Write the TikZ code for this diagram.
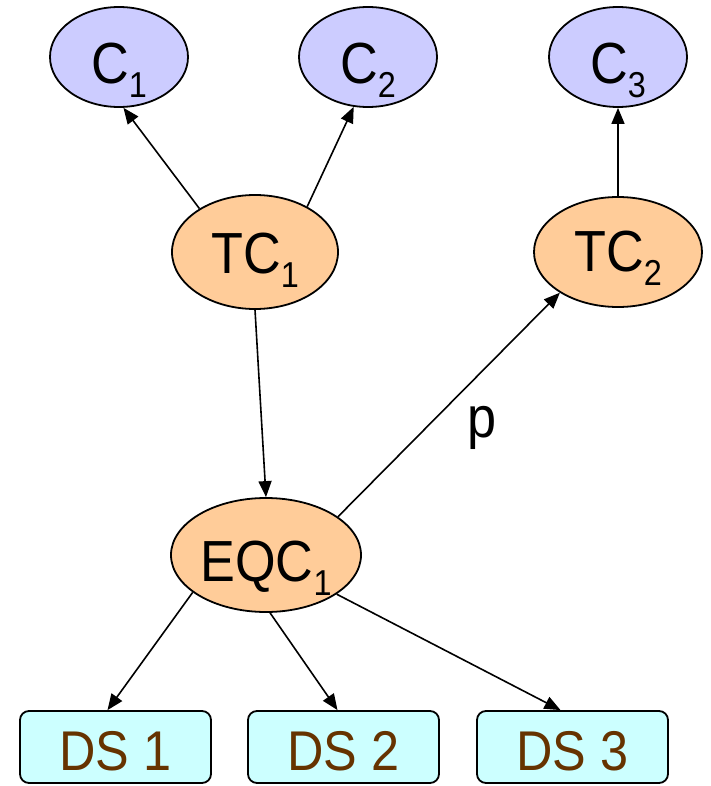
\documentclass[tikz,border=0pt]{standalone}
\usepackage{fontspec}
\setmainfont{Liberation Sans}[FakeStretch=0.9]
\usetikzlibrary{shapes.geometric,arrows.meta}
\definecolor{cblue}{HTML}{CCCCFF}
\definecolor{corange}{HTML}{FFCC99}
\definecolor{ccyan}{HTML}{CCFFFF}
\definecolor{dsbrown}{HTML}{663300}
\newcommand{\mysub}[1]{\raisebox{-14pt}[0pt][0pt]{\fontsize{36}{36}\selectfont #1}}
\tikzset{
  big/.style={font=\fontsize{58}{60}\selectfont},
  cnode/.style={ellipse, draw, line width=1.8pt, fill=cblue, minimum width=138pt, minimum height=100pt, inner sep=0pt, big, text height=54pt, text depth=0pt},
  tnode/.style={ellipse, draw, line width=1.8pt, fill=corange, inner sep=0pt, big},
  dsbox/.style={draw, line width=1.8pt, rounded corners=9pt, fill=ccyan, minimum width=191pt, minimum height=72pt, inner sep=0pt, text=dsbrown, font=\fontsize{56}{58}\selectfont, text height=46pt, text depth=0pt},
  arr/.style={line width=1.6pt, -{Triangle[length=16pt,width=13pt]}}
}
\begin{document}
\begin{tikzpicture}[x=1pt,y=-1pt]
\useasboundingbox (0,0) rectangle (710,786);
\node[cnode] (c1) at (119,57) {C\mysub{1}};
\node[cnode] (c2) at (368,57) {C\mysub{2}};
\node[cnode] (c3) at (618,57) {C\mysub{3}};
\node[tnode, minimum width=166pt, minimum height=114pt, text height=42pt, text depth=0pt] (tc1) at (255,252) {TC\mysub{1}};
\node[tnode, minimum width=168pt, minimum height=110pt, text height=38pt, text depth=0pt] (tc2) at (618,252) {TC\mysub{2}};
\node[tnode, minimum width=190pt, minimum height=114pt, text height=52pt, text depth=0pt] (eqc1) at (266,555) {EQC\mysub{1}};
\node[dsbox] (ds1) at (115.5,747) {DS 1};
\node[dsbox] (ds2) at (343.5,747) {DS 2};
\node[dsbox] (ds3) at (572.5,747) {DS 3};
\node[big] (p) at (482,428) {p};
\draw[arr] (tc1.142.6) -- (c1.-85.2);
\draw[arr] (tc1.41.2) -- (c2.254.2);
\draw[arr] (tc2.north) -- (c3.south);
\draw[arr] (tc1.south) -- (eqc1.north);
\draw[arr] (eqc1.28.5) -- (tc2.215.3);
\draw[arr] (eqc1.207.5) -- ([xshift=-8pt]ds1.north);
\draw[arr] (eqc1.-86) -- ([xshift=-6pt]ds2.north);
\draw[arr] (eqc1.-29) -- ([xshift=-12pt]ds3.north);
\end{tikzpicture}
\end{document}
